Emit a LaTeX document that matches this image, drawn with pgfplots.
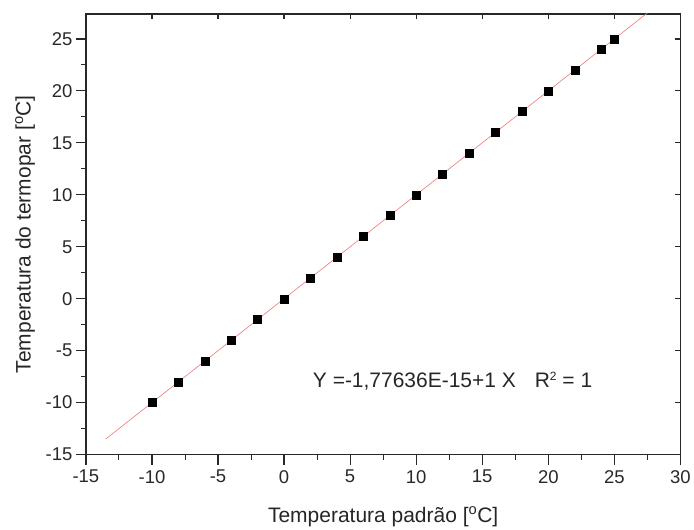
\documentclass[border=0pt]{standalone}
\usepackage{fontspec}
\setmainfont{Liberation Sans}
\usepackage{pgfplots}
\pgfplotsset{compat=1.18}
\definecolor{axgray}{RGB}{40,40,40}
\definecolor{fitred}{RGB}{236,120,120}
\begin{document}
\begin{tikzpicture}
\begin{axis}[
  scale only axis,
  width=595pt, height=441pt,
  xmin=-15, xmax=30, ymin=-15, ymax=27.4,
  xtick={-15,-10,...,30}, ytick={-15,-10,...,25},
  minor tick num=1,
  tick align=outside,
  xtick pos=bottom, ytick pos=left,
  major tick length=10pt, minor tick length=5pt,
  axis line style={axgray, line width=1.2pt},
  every tick/.style={axgray, line width=1.2pt},
  every minor tick/.style={axgray, line width=1pt},
  /pgf/number format/assume math mode=true,
  tick label style={font=\fontsize{18.5}{21}\selectfont, text=axgray},
  xticklabel style={yshift=-2pt},
  xlabel={Temperatura padrão [\textsuperscript{o}C]},
  ylabel={Temperatura do termopar [\textsuperscript{o}C]},
  every axis x label/.style={at={(axis description cs:0.5,-0.1406)}, anchor=center, font=\fontsize{21}{24}\selectfont, text=black!85},
  every axis y label/.style={at={(axis description cs:-0.1025,0.5)}, anchor=center, rotate=90, font=\fontsize{21}{24}\selectfont, text=black!85},
]
\addplot[fitred, line width=0.6pt] coordinates {(-13.5,-13.5) (30,30)};
\addplot[only marks, mark=square*, mark size=4pt, mark options={fill=black, draw=black}] coordinates {
(-10,-10) (-8,-8) (-6,-6) (-4,-4) (-2,-2) (0,0) (2,2) (4,4) (6,6) (8,8)
(10,10) (12,12) (14,14) (16,16) (18,18) (20,20) (22,22) (24,24) (25,25)
};
\node[anchor=base west, font=\fontsize{21}{24}\selectfont, text=black!85, inner sep=0pt] at (axis cs:2.17,-8.56)
  {Y =-1,77636E-15+1 X\hspace{0.9em}R{\fontsize{12}{14}\selectfont\raisebox{0.6em}{2}} = 1};
\end{axis}
\begin{axis}[
  scale only axis,
  width=595pt, height=441pt,
  xmin=-15, xmax=30, ymin=-15, ymax=27.4,
  xtick={-15,-10,...,30}, ytick={-15,-10,...,25},
  xticklabels={}, yticklabels={},
  tick align=inside,
  xtick pos=top, ytick pos=right,
  major tick length=5pt,
  axis line style={draw=none},
  every tick/.style={axgray, line width=1.2pt},
]
\end{axis}
\path (current axis.south west) ++(-86pt,-74pt);
\path (current axis.north east) ++(13pt,14pt);
\end{tikzpicture}
\end{document}
